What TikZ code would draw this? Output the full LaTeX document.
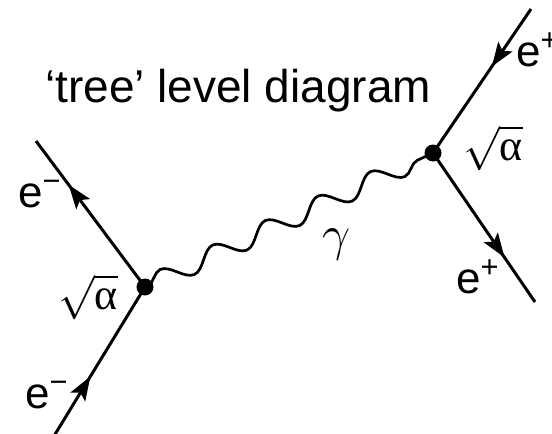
\RequirePackage{fix-cm}
\documentclass[tikz,border=0pt]{standalone}
\usepackage{fontspec}
\setmainfont{Liberation Sans}
\newfontfamily\grk{Liberation Serif}
\usetikzlibrary{arrows.meta,decorations.pathmorphing,decorations.markings}

\begin{document}
\begin{tikzpicture}[
  x=1pt, y=-1pt,
  font=\fontsize{44}{44}\selectfont,
  fermion/.style = {line width=3pt, postaction={decorate},
                    decoration={markings, mark=at position #1 with
                      {\arrow{Stealth[length=24pt,width=17pt,inset=5pt]}}}},
  photon/.style  = {line width=2.7pt, decorate,
                    decoration={snake, amplitude=9.5pt, segment length=58pt,
                                pre length=3pt, post length=3pt}},
  vertex/.style  = {circle, fill=black, inner sep=0pt, minimum size=17pt},
  lbl/.style     = {inner sep=0pt, anchor=base west},
  mlbl/.style    = {inner sep=0pt},
]
\useasboundingbox (0,0) rectangle (552,434);

% ---- vertices and external legs --------------------------------------------
\coordinate (vl)  at (145,287);
\coordinate (vr)  at (433,153);
\coordinate (ein) at (54,436);
\coordinate (eout) at (36,141);
\coordinate (pin) at (531,9);
\coordinate (pout) at (535,302);

% ---- photon ----------------------------------------------------------------
\draw[photon] (vl) -- (vr);

% ---- fermion lines ---------------------------------------------------------
\draw[fermion=0.40] (ein) -- (vl);
\draw[fermion=0.70] (vl) -- (eout);
\draw[fermion=0.40] (pin) -- (vr);
\draw[fermion=0.70] (vr) -- (pout);

\node[vertex] (dl) at (vl) {};
\node[vertex] (dr) at (vr) {};

% ---- labels ----------------------------------------------------------------
\node[lbl, font=\fontsize{46}{46}\selectfont] (ttl) at (45,102) {‘tree’ level diagram};
\node[lbl] (lout) at (18,207)  {e\textsuperscript{−}};
\node[lbl] (lin)  at (25,408)  {e\textsuperscript{−}};
\node[lbl] (rin)  at (516,66)  {e\textsuperscript{+}};
\node[lbl] (rout) at (456,293) {e\textsuperscript{+}};
\node[mlbl] (al) at (88,297)  {$\sqrt{\hbox{\grk α}}$};
\node[mlbl] (ar) at (493,148) {$\sqrt{\hbox{\grk α}}$};
\node[mlbl, font=\fontsize{50}{50}\selectfont] (gam) at (337,245) {$\gamma$};

\end{tikzpicture}
\end{document}
